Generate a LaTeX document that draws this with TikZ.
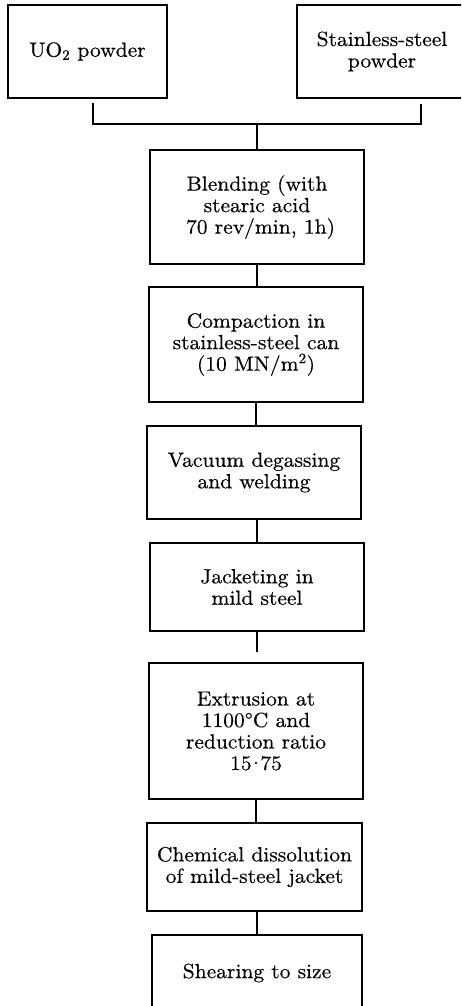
\documentclass[tikz,border=0pt]{standalone}
\usepackage{fontspec}
\setmainfont{lmroman10-regular.otf}[FakeStretch=1.05,FakeBold=0.4]
\begin{document}
\begin{tikzpicture}[x=1pt,y=-1pt,
  stepbox/.style={draw,line width=1.4pt,align=center,inner sep=0pt,
    font=\fontsize{20.5}{21.5}\selectfont},
  link/.style={line width=1.4pt}]
\useasboundingbox (0,0) rectangle (461,1006);
\clip (0,0) rectangle (461,1006);
\node[stepbox,minimum width=159pt,minimum height=93pt] (uo) at (87.5,51.5) {UO\textsubscript{2} powder};
\node[stepbox,minimum width=170pt,minimum height=93pt] (ss) at (382,51.5) {Stainless-steel\\powder};
\node[stepbox,minimum width=214pt,minimum height=114pt] (blend) at (257,207) {Blending (with\\stearic acid\\\ 70 rev/min, 1h)};
\node[stepbox,minimum width=214pt,minimum height=115pt] (comp) at (256,344.5) {Compaction in\\stainless-steel can\\(10 MN/m\textsuperscript{2})};
\node[stepbox,minimum width=214pt,minimum height=93pt] (vac) at (254,472.5) {Vacuum degassing\\and welding};
\node[stepbox,minimum width=214pt,minimum height=88pt] (jack) at (257,587) {Jacketing in\\mild steel};
\node[stepbox,minimum width=214pt,minimum height=136pt] (ext) at (256,731) {Extrusion at\\1100\textdegree C and\\reduction ratio\\15\kern-4pt\textperiodcentered\kern-4pt 75};
\node[stepbox,minimum width=215pt,minimum height=88pt] (chem) at (254.5,867) {Chemical dissolution\\of mild-steel jacket};
\node[stepbox,minimum width=210pt,minimum height=76pt] (shear) at (257,973) {Shearing to size};
\coordinate (j) at (257,124);
\draw[link] ([xshift=5.5pt,yshift=-4pt]uo.south) |- (j);
\draw[link] ([xshift=39pt,yshift=-5pt]ss.south) |- (j);
\draw[link] (j) -- (j |- blend.north);
\draw[link] (blend.south) -- (blend.south |- comp.north);
\draw[link] (comp.south) -- (comp.south |- vac.north);
\draw[link] (vac.south -| jack.south) -- (jack.north);
\draw[link,shorten >=10pt] (jack.south) -- (jack.south |- ext.north);
\draw[link] (ext.south) -- (ext.south |- chem.north);
\draw[link] (chem.south -| shear.north) -- (shear.north);
\end{tikzpicture}
\end{document}
